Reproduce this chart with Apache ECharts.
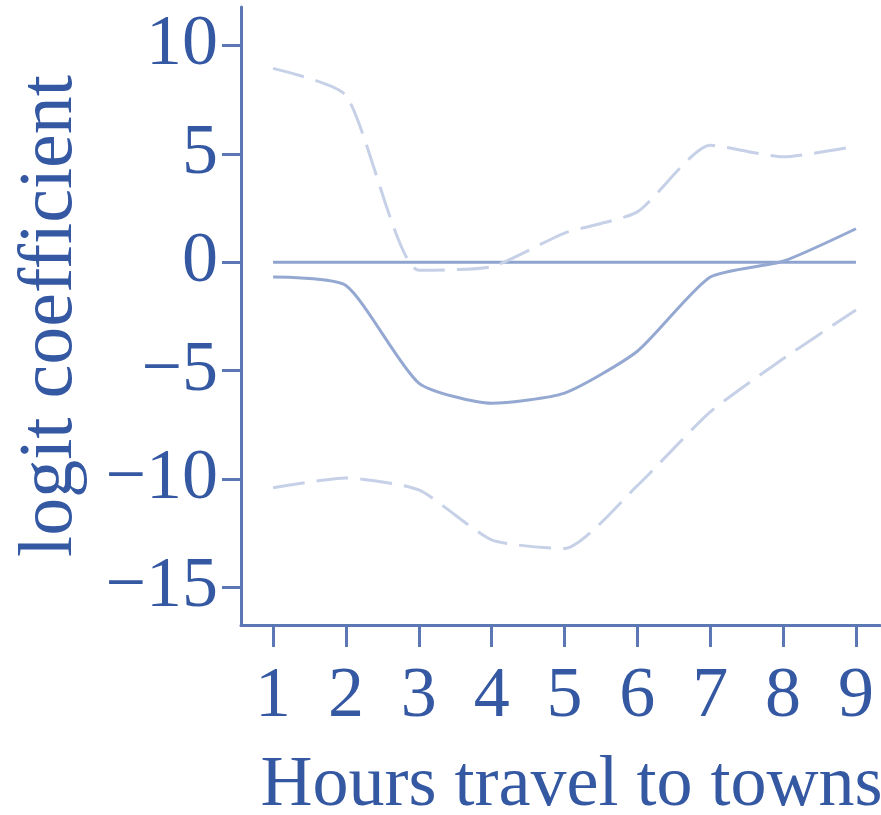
<!DOCTYPE html>
<html>
<head>
<meta charset="utf-8">
<script src="https://cdn.jsdelivr.net/npm/echarts@6/dist/echarts.min.js"></script>
<style>
  html, body { margin: 0; padding: 0; background: #fff; }
  #chart { width: 881px; height: 815px; }
</style>
</head>
<body>
<div id="chart"></div>
<script>
// hours travel to towns
var hours = [1, 2, 3, 4, 5, 6, 7, 8, 9];
// logit coefficient and its bounds
var coef = [-0.68, -1.07, -5.57, -6.5, -6.03, -4.1, -0.68, 0.05, 1.55];
var upper = [8.95, 7.7, -0.36, -0.2, 1.35, 2.33, 5.4, 4.87, 5.36];
var lower = [-10.4, -9.95, -10.5, -12.8, -13.2, -10.3, -6.9, -4.45, -2.2];
var zeroLine = [0, 0, 0, 0, 0, 0, 0, 0, 0];
var yTicks = [-15, -10, -5, 0, 5, 10];

var axisColor = '#5b78b5';
var textColor = '#3558a3';
var font = 'Liberation Serif';

function pairs(vals) {
    return hours.map(function (h, i) { return [h, vals[i]]; });
}

var myChart = echarts.init(document.getElementById('chart'));
myChart.setOption({
    animation: false,
    grid: { left: 241, right: 1, top: 7, bottom: 190, containLabel: false, outerBoundsMode: 'none' },
    xAxis: {
        type: 'value',
        min: 0.56,
        max: 9.33,
        name: 'Hours travel to towns',
        nameLocation: 'middle',
        nameGap: 125,
        nameTextStyle: { color: textColor, fontFamily: font, fontSize: 72, padding: [0, 0, 0, 22] },
        axisLine: { onZero: false, lineStyle: { color: axisColor, width: 3 } },
        axisTick: { show: true, customValues: hours, length: 22, lineStyle: { color: axisColor, width: 3 } },
        axisLabel: { customValues: hours, color: textColor, fontFamily: font, fontSize: 72, margin: 36 },
        splitLine: { show: false }
    },
    yAxis: {
        type: 'value',
        min: -16.73,
        max: 11.78,
        name: 'logit coefficient',
        nameLocation: 'middle',
        nameGap: 152,
        nameTextStyle: { color: textColor, fontFamily: font, fontSize: 76 },
        axisLine: { show: true, onZero: false, lineStyle: { color: axisColor, width: 3 } },
        axisTick: { show: true, customValues: yTicks, length: 19, lineStyle: { color: axisColor, width: 3 } },
        axisLabel: {
            customValues: yTicks, color: textColor, fontFamily: font, fontSize: 72, margin: 23,
            formatter: function (v) { return String(v).replace('-', '\u2212'); }
        },
        splitLine: { show: false }
    },
    series: [
        {
            name: 'zero', type: 'line', data: pairs(zeroLine), symbol: 'none',
            lineStyle: { color: '#8ea4cf', width: 3 }
        },
        {
            name: 'upper', type: 'line', data: pairs(upper), symbol: 'none', smooth: 0.2,
            lineStyle: { color: '#c6d1e7', width: 3, type: [32, 12] }
        },
        {
            name: 'lower', type: 'line', data: pairs(lower), symbol: 'none', smooth: 0.2,
            lineStyle: { color: '#c6d1e7', width: 3, type: [32, 12] }
        },
        {
            name: 'coef', type: 'line', data: pairs(coef), symbol: 'none', smooth: 0.2,
            lineStyle: { color: '#94a8d1', width: 3 }
        }
    ]
});
</script>
</body>
</html>
